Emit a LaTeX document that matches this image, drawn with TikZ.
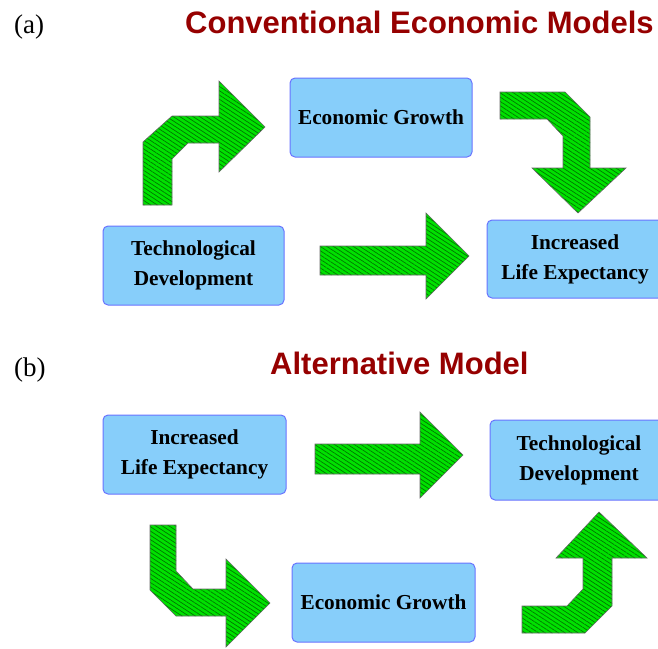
\documentclass[tikz,border=0pt]{standalone}
\usepackage{fontspec}
\setmainfont{Liberation Serif}
\newfontfamily\headfont{Liberation Sans}
\usetikzlibrary{patterns.meta}

\definecolor{boxfill}{RGB}{135,206,250}
\definecolor{boxline}{RGB}{105,115,255}
\definecolor{arrowgreen}{RGB}{0,225,0}
\definecolor{stripegreen}{RGB}{0,120,0}
\definecolor{headred}{RGB}{150,0,0}

\begin{document}
\begin{tikzpicture}
[
	x=1pt,y=-1pt,
	box/.style={rectangle,rounded corners=5pt,draw=boxline,fill=boxfill,line width=1,align=center,
		font=\bfseries\fontsize{21.3}{30}\selectfont},
	fat/.style={preaction={fill=arrowgreen},pattern={Lines[angle=-33,distance=3.6pt,line width=0.7pt]},
		pattern color=stripegreen,draw=black!60,line width=0.6},
	tag/.style={anchor=base west,inner sep=0,font=\fontsize{27}{30}\selectfont},
	head/.style={anchor=base west,inner sep=0,text=headred,font=\headfont\bfseries\fontsize{31}{34}\selectfont}
]
\clip (0,0) rectangle (658,648);

\node[tag] (la) at (14,33) {(a)};
\node[head] (ha) at (185,33) {Conventional Economic Models};

\node[box,minimum width=182,minimum height=79] (grow1) at (381,117.5) {Economic Growth};
\node[box,minimum width=181,minimum height=79] (tech1) at (193.5,265.5) {Technological\\Development};
\node[box,minimum width=176,minimum height=78] (life1) at (575,259) {Increased\\Life Expectancy};

\draw[fat] (143,205) -- (143,142) -- (172,116) -- (219,116) -- (219,81) -- (265,127)
	-- (219,172) -- (219,143) -- (188,143) -- (172,159) -- (172,205) -- cycle;
\draw[fat] (500,92) -- (565,92) -- (590,117) -- (590,168) -- (626,168) -- (578,213)
	-- (532,168) -- (563,168) -- (563,136) -- (547,119) -- (500,119) -- cycle;
\draw[fat] (320,246) -- (426,246) -- (426,213) -- (469,256) -- (426,299) -- (426,275) -- (320,275) -- cycle;

\node[tag] (lb) at (14,376) {(b)};
\node[head] (hb) at (270,374) {Alternative Model};

\node[box,minimum width=183,minimum height=79] (life2) at (194.5,454.5) {Increased\\Life Expectancy};
\node[box,minimum width=178,minimum height=80] (tech2) at (579,460) {Technological\\Development};
\node[box,minimum width=183,minimum height=79] (grow2) at (383.5,602.5) {Economic Growth};

\draw[fat] (315,444) -- (420,444) -- (420,412) -- (463,455) -- (420,498) -- (420,474) -- (315,474) -- cycle;
\draw[fat] (150,525) -- (176,525) -- (176,571) -- (193,589) -- (226,589) -- (226,559) -- (270,603)
	-- (226,647) -- (226,616) -- (176,616) -- (150,590) -- cycle;
\draw[fat] (522,633) -- (522,606) -- (567,606) -- (583,589) -- (583,558) -- (556,558) -- (599,512)
	-- (647,558) -- (612,558) -- (612,606) -- (585,633) -- cycle;

\end{tikzpicture}
\end{document}
